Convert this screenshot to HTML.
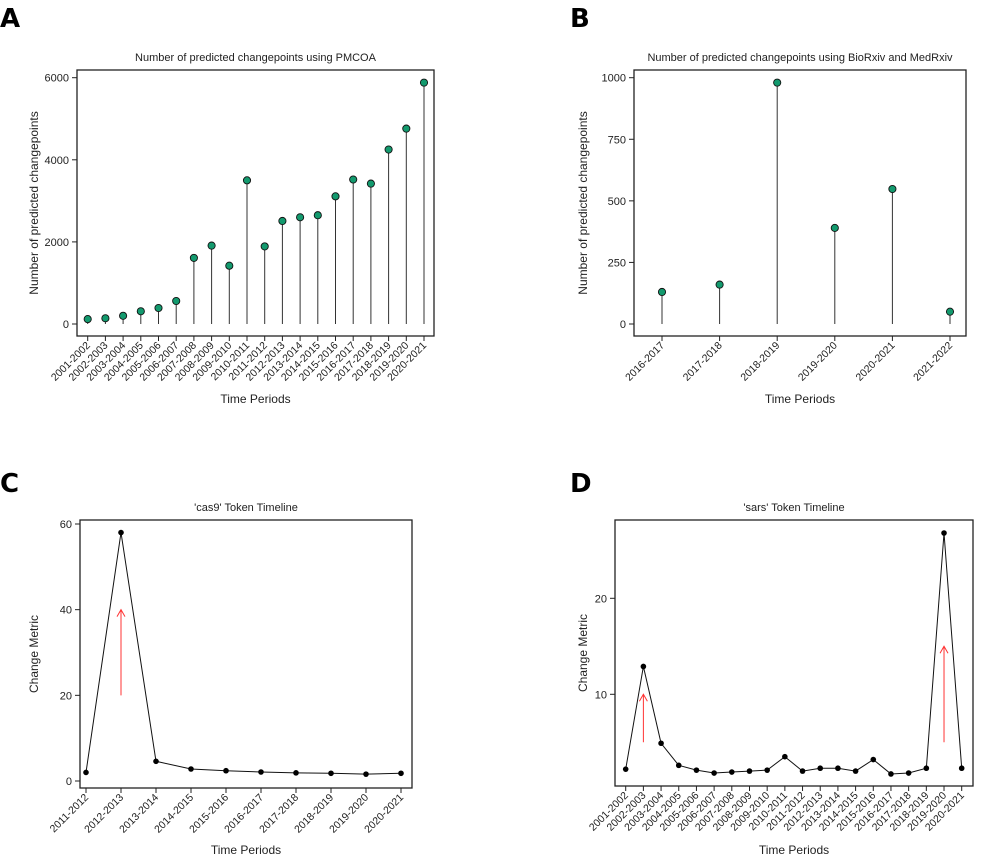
<!DOCTYPE html>
<html><head><meta charset="utf-8"><style>
body{margin:0;background:#fff}
svg{display:block;font-family:"Liberation Sans","DejaVu Sans",sans-serif}
</style></head><body>
<svg id="s" width="993" height="860" viewBox="0 0 993 860"></svg>
<script>
const catsA=["2001-2002","2002-2003","2003-2004","2004-2005","2005-2006","2006-2007","2007-2008","2008-2009","2009-2010","2010-2011","2011-2012","2012-2013","2013-2014","2014-2015","2015-2016","2016-2017","2017-2018","2018-2019","2019-2020","2020-2021"];
const valsA=[120,140,200,310,390,560,1610,1910,1420,3500,1890,2510,2600,2650,3110,3520,3420,4250,4760,5880];
const ticksA=[0,2000,4000,6000];
const catsB=["2016-2017","2017-2018","2018-2019","2019-2020","2020-2021","2021-2022"];
const valsB=[130,160,980,390,548,50];
const ticksB=[0,250,500,750,1000];
const catsC=["2011-2012","2012-2013","2013-2014","2014-2015","2015-2016","2016-2017","2017-2018","2018-2019","2019-2020","2020-2021"];
const valsC=[2,58,4.6,2.8,2.4,2.1,1.9,1.8,1.6,1.8];
const ticksC=[0,20,40,60];
const arrowsC=[[1,20,40]];
const catsD=catsA;
const valsD=[2.2,12.9,4.9,2.6,2.1,1.8,1.9,2.0,2.1,3.5,2.0,2.3,2.3,2.0,3.2,1.7,1.8,2.3,26.8,2.3];
const ticksD=[10,20];
const arrowsD=[[1,5,10],[18,5,15]];

const S=document.getElementById('s');const NS="http://www.w3.org/2000/svg";
function el(t,a,p,txt){const e=document.createElementNS(NS,t);for(const k in a)e.setAttribute(k,a[k]);if(txt!==undefined)e.textContent=txt;(p||S).appendChild(e);return e;}

function panel(o){
  const g=el('g',{});
  
  
  const n=o.cats.length;
  const X=i=>o.x0+(o.x1-o.x0)*i/(n-1);
  const Y=v=>o.yz+(o.yt-o.yz)*(v-o.vz)/(o.vt-o.vz);
  const t=el('text',{x:(o.bl+o.br)/2,y:o.by0-9,'text-anchor':'middle','font-size':11,fill:'#222'},g,o.title);
  
  o.ticks.forEach(v=>{const y=Y(v);
    el('line',{x1:o.bl-5,x2:o.bl,y1:y,y2:y,stroke:'#222'},g);
    const tl=el('text',{x:o.bl-8,y:y+4,'text-anchor':'end','font-size':11,fill:'#222'},g,v);
    
  });
  o.cats.forEach((c,i)=>{const x=X(i);
    el('line',{x1:x,x2:x,y1:o.by1,y2:o.by1+5,stroke:'#222'},g);
    const tl=el('text',{transform:`translate(${x+3},${o.by1+10}) rotate(-45)`,'text-anchor':'end','font-size':10.5,fill:'#222'},g,c);
    
  });
  const xt=el('text',{x:(o.bl+o.br)/2,y:o.xty,'text-anchor':'middle','font-size':12,fill:'#222'},g,'Time Periods');
  
  const ym=(o.by0+o.by1)/2;
  const yt=el('text',{transform:`translate(${o.ytx},${ym}) rotate(-90)`,'text-anchor':'middle','font-size':12,fill:'#222'},g,o.ytitle);
  
  if(o.type==='stem'){
    o.vals.forEach((v,i)=>{
      const st=el('line',{x1:X(i),x2:X(i),y1:Y(0),y2:Y(v),stroke:'#333','stroke-width':1},g);
      
      const c=el('circle',{cx:X(i),cy:Y(v),r:3.6,fill:'#139a6e',stroke:'#111','stroke-width':0.9},g);
      
    });
  } else {
    const p=el('polyline',{points:o.vals.map((v,i)=>X(i)+','+Y(v)).join(' '),fill:'none',stroke:'#111','stroke-width':1},g);
    
    o.vals.forEach((v,i)=>{const c=el('circle',{cx:X(i),cy:Y(v),r:2.8,fill:'#000'},g);
      });
    o.arrows.forEach(a=>{const x=X(a[0]),y1=Y(a[1]),y2=Y(a[2]);
      const ar=el('path',{d:`M${x},${y1}L${x},${y2}M${x-4},${y2+7}L${x},${y2}L${x+4},${y2+7}`,stroke:'#f33',fill:'none','stroke-width':1},g);
      });
  }
  el('rect',{x:o.bl,y:o.by0,width:o.br-o.bl,height:o.by1-o.by0,fill:'none',stroke:'#222','stroke-width':1.3},g);
  const L=el('text',{x:o.lx,y:o.ly,'font-size':26,'font-weight':'bold',fill:'#000','font-family':'"DejaVu Sans",sans-serif'},g,o.letter);
  
}
panel({name:'panel-a',letter:'A',lx:0,ly:27,title:'Number of predicted changepoints using PMCOA',type:'stem',cats:catsA,vals:valsA,ticks:ticksA,
 x0:87.7,x1:424,bl:77,br:434,by0:70,by1:336,vz:0,yz:324,vt:6000,yt:77.7,xty:403,ytx:38,ytitle:'Number of predicted changepoints'});
panel({name:'panel-b',letter:'B',lx:570,ly:27,title:'Number of predicted changepoints using BioRxiv and MedRxiv',type:'stem',cats:catsB,vals:valsB,ticks:ticksB,
 x0:662,x1:950,bl:634,br:966,by0:70,by1:336,vz:0,yz:324,vt:1000,yt:77.7,xty:403,ytx:587,ytitle:'Number of predicted changepoints'});
panel({name:'panel-c',letter:'C',lx:0,ly:492,title:"'cas9' Token Timeline",type:'line',cats:catsC,vals:valsC,ticks:ticksC,arrows:arrowsC,
 x0:86,x1:401,bl:80,br:412,by0:520,by1:788,vz:0,yz:781,vt:60,yt:524,xty:854,ytx:38,ytitle:'Change Metric'});
panel({name:'panel-d',letter:'D',lx:570,ly:492,title:"'sars' Token Timeline",type:'line',cats:catsD,vals:valsD,ticks:ticksD,arrows:arrowsD,
 x0:625.7,x1:961.7,bl:615,br:973,by0:520,by1:786,vz:0,yz:790.3,vt:20,yt:598.3,xty:854,ytx:587,ytitle:'Change Metric'});
</script>
</body></html>
